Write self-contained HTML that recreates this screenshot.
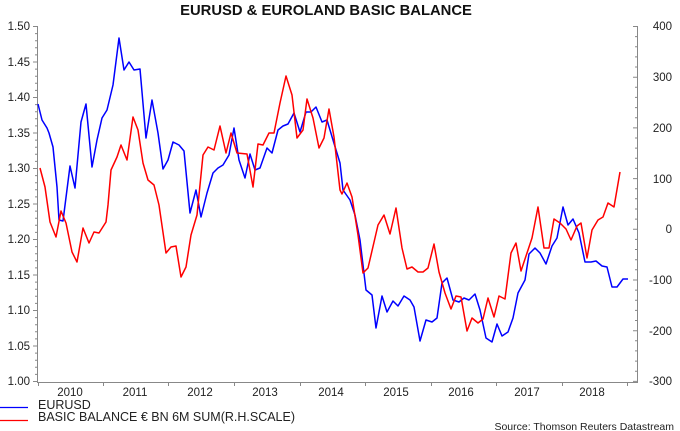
<!DOCTYPE html>
<html><head><meta charset="utf-8"><style>
body{margin:0;background:#fff;}
svg{display:block;font-family:"Liberation Sans",Arial,sans-serif;}
</style></head><body>
<svg width="680" height="431" viewBox="0 0 680 431" xmlns="http://www.w3.org/2000/svg">
<rect width="680" height="431" fill="#fff"/>
<text x="326" y="15" text-anchor="middle" font-size="14.8" font-weight="bold" fill="#111">EURUSD &amp; EUROLAND BASIC BALANCE</text>
<g stroke="#888" stroke-width="1" fill="none">
<line x1="37.5" y1="26" x2="37.5" y2="382"/>
<line x1="637.5" y1="26" x2="637.5" y2="382"/>
<line x1="37" y1="382.5" x2="638" y2="382.5"/>
<path d="M33 26.5h4M35 33.6h2M35 40.7h2M35 47.8h2M35 54.9h2M33 62h4M35 69.1h2M35 76.2h2M35 83.3h2M35 90.4h2M33 97.5h4M35 104.6h2M35 111.7h2M35 118.8h2M35 125.9h2M33 133h4M35 140.1h2M35 147.2h2M35 154.3h2M35 161.4h2M33 168.5h4M35 175.6h2M35 182.7h2M35 189.8h2M35 196.9h2M33 204h4M35 211.1h2M35 218.2h2M35 225.3h2M35 232.4h2M33 239.5h4M35 246.6h2M35 253.7h2M35 260.8h2M35 267.9h2M33 275h4M35 282.1h2M35 289.2h2M35 296.3h2M35 303.4h2M33 310.5h4M35 317.6h2M35 324.7h2M35 331.8h2M35 338.9h2M33 346h4M35 353.1h2M35 360.2h2M35 367.3h2M35 374.4h2M33 381.5h4"/>
<path d="M633 26.5h5M635 36.6h3M635 46.8h3M635 56.9h3M635 67h3M633 77.2h5M635 87.3h3M635 97.4h3M635 107.6h3M635 117.7h3M633 127.9h5M635 138h3M635 148.1h3M635 158.3h3M635 168.4h3M633 178.6h5M635 188.7h3M635 198.8h3M635 209h3M635 219.1h3M633 229.3h5M635 239.4h3M635 249.5h3M635 259.7h3M635 269.8h3M633 280h5M635 290.1h3M635 300.2h3M635 310.4h3M635 320.5h3M633 330.7h5M635 340.8h3M635 350.9h3M635 361.1h3M635 371.2h3M633 381.4h5"/>
<path d="M38.5 382v4M103.5 382v4M168.5 382v4M234.5 382v4M300.5 382v4M365.5 382v4M431.5 382v4M496.5 382v4M562.5 382v4M627.5 382v4"/>
</g>
<g font-size="11.5" fill="#222" text-anchor="end">
<text x="30" y="30">1.50</text><text x="30" y="66">1.45</text><text x="30" y="101">1.40</text><text x="30" y="137">1.35</text><text x="30" y="172">1.30</text><text x="30" y="208">1.25</text><text x="30" y="243">1.20</text><text x="30" y="279">1.15</text><text x="30" y="314">1.10</text><text x="30" y="350">1.05</text><text x="30" y="385">1.00</text>
</g>
<g font-size="11.5" fill="#222" text-anchor="end">
<text x="672" y="30">400</text><text x="672" y="81">300</text><text x="672" y="132">200</text><text x="672" y="183">100</text><text x="672" y="233">0</text><text x="672" y="284">-100</text><text x="672" y="335">-200</text><text x="672" y="385">-300</text>
</g>
<g font-size="11.5" fill="#222" text-anchor="middle">
<text x="70" y="396">2010</text><text x="135" y="396">2011</text><text x="200" y="396">2012</text><text x="265" y="396">2013</text><text x="331" y="396">2014</text><text x="396" y="396">2015</text><text x="461" y="396">2016</text><text x="527" y="396">2017</text><text x="592" y="396">2018</text>
</g>
<polyline fill="none" stroke="#0000ff" stroke-width="1.5" stroke-linejoin="round" points="38,104 42,120 47,128 49,133 53,147 57,187 59,220 63,221 70,166 75,188 81,122 86,104 92,167 97,140 102,118 107,110 113,85 119,38 124,70 129,62 134,70 140,69 146,138 152,100 158,133 163,169 168,160 173,142 179,145 184,151 190,213 196,190 201,217 207,193 213,173 218,168 223,165 229,155 234,128 239,160 245,178 250,154 255,170 260,168 267,148 272,153 278,130 283,126 288,124 294,113 300,132 306,112 311,112 316,107 322,122 327,120 333,140 340,163 343,190 350,200 355,215 360,240 366,290 372,295 376,328 382,296 387,312 393,301 398,306 404,296 410,300 414,307 420,341 426,320 432,322 437,318 442,283 447,278 453,300 459,302 464,298 469,300 475,294 480,310 486,338 492,342 497,324 502,336 508,332 513,318 518,293 525,280 529,254 535,248 540,253 546,264 552,246 557,238 563,207 568,225 573,219 579,233 585,262 591,262 596,261 602,266 607,267 612,287 617,287 623,279 628,279"/>
<polyline fill="none" stroke="#ff0000" stroke-width="1.5" stroke-linejoin="round" points="40,168 45,187 50,222 56,237 61,211 66,223 72,252 77,262 83,228 89,243 94,232 99,233 106,222 108,205 111,170 117,157 121,145 127,160 133,117 138,130 143,163 148,180 154,185 159,205 166,253 171,247 176,246 181,277 186,267 191,235 197,215 203,155 208,147 214,150 220,126 226,153 231,133 237,153 247,154 253,187 258,144 263,145 269,133 274,133 280,103 286,76 292,95 297,138 303,130 307,99 313,118 319,148 324,138 329,109 334,137 340,190 342,194 347,183 352,197 358,235 363,273 368,268 378,225 384,215 390,234 396,208 402,248 407,269 412,267 418,272 423,272 428,268 434,244 439,272 445,293 451,309 456,296 461,297 467,331 472,318 478,323 483,319 488,298 494,317 499,296 505,299 511,253 516,243 521,271 527,253 532,238 538,207 544,248 549,248 554,219 560,223 566,229 571,240 577,226 581,223 587,258 592,230 598,220 603,217 608,203 614,207 620,172"/>
<line x1="0" y1="407.5" x2="28" y2="407.5" stroke="#0000ff" stroke-width="1.2"/>
<line x1="0" y1="420.5" x2="28" y2="420.5" stroke="#ff0000" stroke-width="1.2"/>
<g font-size="12.5" fill="#222">
<text x="38" y="409">EURUSD</text>
<text x="38" y="421">BASIC BALANCE € BN 6M SUM(R.H.SCALE)</text>
</g>
<text x="674" y="430" text-anchor="end" font-size="10.5" fill="#222">Source: Thomson Reuters Datastream</text>
</svg>
</body></html>
